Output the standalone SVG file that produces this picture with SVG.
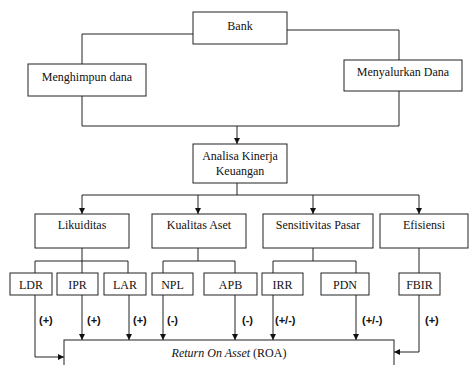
<svg xmlns="http://www.w3.org/2000/svg" width="471" height="365" viewBox="0 0 471 365">
<style>
.box{fill:#fff;stroke:#222;stroke-width:1}
.t{font-family:'Liberation Serif','Times New Roman','DejaVu Serif',serif;font-size:12px;fill:#111;text-anchor:middle}
.lb{font-family:'Liberation Sans',Arial,sans-serif;font-size:11px;font-weight:bold;fill:#111}
.c{fill:none;stroke:#222;stroke-width:1}
</style>
<defs>
<marker id="ah" viewBox="0 0 6 6" refX="6" refY="3" markerWidth="6" markerHeight="6" markerUnits="userSpaceOnUse" orient="auto">
<path d="M0,0 L6,3 L0,6 Z" fill="#111"/>
</marker>
</defs>
<rect width="471" height="365" fill="#fff"/>
<g id="connectors">
<path class="c" d="M193,34 H82 V64"/>
<path class="c" d="M287,30 H399 V60"/>
<path class="c" d="M82,96 V126 H399 V91"/>
<path class="c" d="M237,126 V144" marker-end="url(#ah)"/>
<path class="c" d="M237,183 V195"/>
<path class="c" d="M82,195 H419"/>
<path class="c" d="M82,195 V214" marker-end="url(#ah)"/>
<path class="c" d="M198,195 V214" marker-end="url(#ah)"/>
<path class="c" d="M313,195 V214" marker-end="url(#ah)"/>
<path class="c" d="M419,195 V214" marker-end="url(#ah)"/>
<path class="c" d="M82,248 V273 M35,273 V261 H128 V273"/>
<path class="c" d="M198,248 V261 M163,273 V261 H235 V273"/>
<path class="c" d="M313,248 V261 M273,273 V261 H356 V273"/>
<path class="c" d="M419,248 V273"/>
<path class="c" d="M35,295 V357 H64" marker-end="url(#ah)"/>
<path class="c" d="M82,295 V340" marker-end="url(#ah)"/>
<path class="c" d="M129,295 V340" marker-end="url(#ah)"/>
<path class="c" d="M163,295 V340" marker-end="url(#ah)"/>
<path class="c" d="M235,295 V340" marker-end="url(#ah)"/>
<path class="c" d="M273,295 V340" marker-end="url(#ah)"/>
<path class="c" d="M356,295 V340" marker-end="url(#ah)"/>
<path class="c" d="M419,295 V352 H394" marker-end="url(#ah)"/>
</g>
<g id="bank"><rect class="box" x="193" y="12" width="94" height="32"/><text class="t" x="240" y="30">Bank</text></g>
<g id="menghimpun"><rect class="box" x="28" y="64" width="118" height="32"/><text class="t" x="87" y="81">Menghimpun dana</text></g>
<g id="menyalurkan"><rect class="box" x="344" y="60" width="118" height="31"/><text class="t" x="403" y="76">Menyalurkan Dana</text></g>
<g id="analisa"><rect class="box" x="193" y="144" width="94" height="39"/><text class="t" x="240" y="160">Analisa Kinerja</text><text class="t" x="240" y="175">Keuangan</text></g>
<g id="likuiditas"><rect class="box" x="35" y="214" width="94" height="34"/><text class="t" x="82" y="229">Likuiditas</text></g>
<g id="kualitas"><rect class="box" x="152" y="214" width="94" height="34"/><text class="t" x="199" y="229">Kualitas Aset</text></g>
<g id="sensitivitas"><rect class="box" x="263" y="214" width="110" height="34"/><text class="t" x="318" y="229">Sensitivitas Pasar</text></g>
<g id="efisiensi"><rect class="box" x="380" y="214" width="88" height="34"/><text class="t" x="424" y="229">Efisiensi</text></g>
<g id="ldr"><rect class="box" x="10" y="273" width="42" height="22"/><text class="t" x="31" y="289">LDR</text></g>
<g id="ipr"><rect class="box" x="57" y="273" width="41" height="22"/><text class="t" x="77.5" y="289">IPR</text></g>
<g id="lar"><rect class="box" x="104" y="273" width="42" height="22"/><text class="t" x="125" y="289">LAR</text></g>
<g id="npl"><rect class="box" x="152" y="273" width="41" height="22"/><text class="t" x="172.5" y="289">NPL</text></g>
<g id="apb"><rect class="box" x="204" y="273" width="53" height="22"/><text class="t" x="230.5" y="289">APB</text></g>
<g id="irr"><rect class="box" x="262" y="273" width="41" height="22"/><text class="t" x="282.5" y="289">IRR</text></g>
<g id="pdn"><rect class="box" x="321" y="273" width="48" height="22"/><text class="t" x="345" y="289">PDN</text></g>
<g id="fbir"><rect class="box" x="399" y="273" width="41" height="22"/><text class="t" x="419.5" y="289">FBIR</text></g>
<g id="roa"><rect class="box" x="64" y="340" width="330" height="40"/><text class="t" x="229" y="357"><tspan font-style="italic">Return On Asset</tspan> (ROA)</text></g>
<g id="labels">
<text class="lb" x="39" y="324">(+)</text>
<text class="lb" x="87" y="324">(+)</text>
<text class="lb" x="133" y="324">(+)</text>
<text class="lb" x="167" y="324">(-)</text>
<text class="lb" x="242" y="324">(-)</text>
<text class="lb" x="275" y="324">(+/-)</text>
<text class="lb" x="362" y="324">(+/-)</text>
<text class="lb" x="425" y="324">(+)</text>
</g>
</svg>
